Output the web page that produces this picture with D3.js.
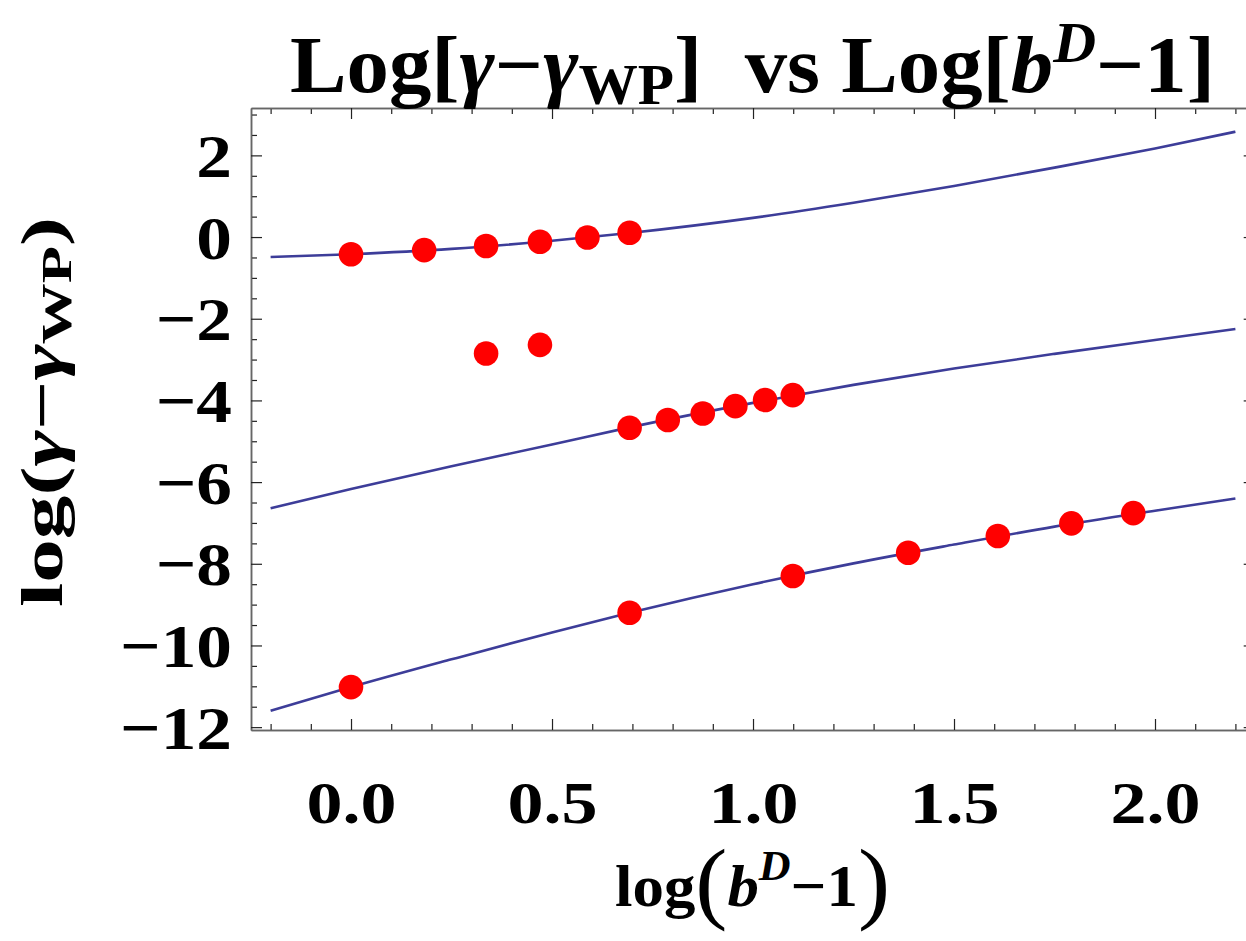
<!DOCTYPE html>
<html>
<head>
<meta charset="utf-8">
<script src="https://cdn.jsdelivr.net/npm/d3@7"></script>
<style>
  body { margin: 0; background: #fff; }
  text { font-family: "Liberation Serif", "Times New Roman", serif; font-weight: bold; }
</style>
</head>
<body>
<script>
// points: x = log(b^D - 1), y = log(gamma - gamma_WP)
const topX = [0, 0.182, 0.336, 0.47, 0.588, 0.693]
const topY = [-0.42, -0.32, -0.22, -0.115, -0.01, 0.105]
const strayX = [0.336, 0.47]
const strayY = [-2.85, -2.64]
const midX = [0.693, 0.788, 0.875, 0.956, 1.03, 1.099]
const midY = [-4.67, -4.48, -4.32, -4.14, -3.99, -3.87]
const lowX = [0, 0.693, 1.099, 1.386, 1.609, 1.792, 1.946]
const lowY = [-11.02, -9.2, -8.3, -7.73, -7.32, -7.01, -6.76]

// fitted curves
const curveX = [-0.2, 0, 0.25, 0.5, 0.693, 1.0, 1.25, 1.5, 1.75, 2.0, 2.2]
const topFit = [-0.49, -0.42, -0.29, -0.09, 0.1, 0.47, 0.84, 1.25, 1.7, 2.17, 2.58]
const midFit = [-6.64, -6.17, -5.61, -5.08, -4.66, -4.06, -3.62, -3.22, -2.86, -2.52, -2.25]
const lowFit = [-11.6, -11.02, -10.34, -9.68, -9.2, -8.5, -7.99, -7.53, -7.09, -6.7, -6.4]

const xMajor = [0, 0.5, 1, 1.5, 2]
const yMajor = [2, 0, -2, -4, -6, -8, -10, -12]

const width = 1246
const height = 941

const svg = d3.select('body')
    .append('svg')
    .attr('width', width)
    .attr('height', height)

const x = d3.scaleLinear().domain([-0.2488, 2.248]).range([251, 1254.7])
const y = d3.scaleLinear().domain([-12.07, 3.16]).range([730, 108])

const xMinor = d3.range(-2, 23).map(d => d / 10).filter(d => xMajor.indexOf(d) < 0)
const yMinor = d3.range(-24, 7).map(d => d / 2).filter(d => yMajor.indexOf(d) < 0)

function frameAxis(axis, pos, ticks, size, labels) {
    const g = svg.append('g')
        .attr('transform', pos)
        .call(axis.tickValues(ticks).tickSizeInner(-size).tickSizeOuter(0)
            .tickFormat(labels ? labels : ''))
    g.select('.domain').attr('stroke', '#666').attr('stroke-width', 1.5)
    g.selectAll('.tick line').attr('stroke', '#222').attr('stroke-width', 1.2)
    return g
}

// bottom
frameAxis(d3.axisBottom(x), 'translate(0,730)', xMinor, 6)
const bx = frameAxis(d3.axisBottom(x), 'translate(0,730)', xMajor, 11, d3.format('.1f'))
bx.selectAll('.tick text')
    .attr('y', 0).attr('dy', 0)
    .attr('transform', 'translate(0,93) scale(1.2,1)')
    .attr('fill', '#000').attr('font-size', 60)
// top
frameAxis(d3.axisTop(x), 'translate(0,108)', xMinor, 6)
frameAxis(d3.axisTop(x), 'translate(0,108)', xMajor, 11)
// left
frameAxis(d3.axisLeft(y), 'translate(251,0)', yMinor, 6)
const ly = frameAxis(d3.axisLeft(y), 'translate(251,0)', yMajor, 11, d3.format('d'))
ly.selectAll('.tick text')
    .attr('x', 0).attr('dy', '0.34em')
    .attr('transform', 'translate(-19,0) scale(1.15,1)')
    .attr('fill', '#000').attr('font-size', 62)
// right
frameAxis(d3.axisRight(y), 'translate(' + x(2.248) + ',0)', yMinor, 6)
frameAxis(d3.axisRight(y), 'translate(' + x(2.248) + ',0)', yMajor, 11)

// fitted lines
const line = d3.line()
    .x(d => x(d[0]))
    .y(d => y(d[1]))
    .curve(d3.curveMonotoneX)

const fits = [topFit, midFit, lowFit]
svg.selectAll('path.fit')
    .data(fits)
    .enter().append('path')
    .attr('class', 'fit')
    .attr('fill', 'none')
    .attr('stroke', '#3d3d99')
    .attr('stroke-width', 2.6)
    .attr('d', f => line(curveX.map((cx, i) => [cx, f[i]])))

// data points
const pts = []
topX.forEach((d, i) => pts.push([d, topY[i]]))
strayX.forEach((d, i) => pts.push([d, strayY[i]]))
midX.forEach((d, i) => pts.push([d, midY[i]]))
lowX.forEach((d, i) => pts.push([d, lowY[i]]))

svg.selectAll('circle.pt')
    .data(pts)
    .enter().append('circle')
    .attr('class', 'pt')
    .attr('cx', d => x(d[0]))
    .attr('cy', d => y(d[1]))
    .attr('r', 12.3)
    .attr('fill', '#ff0000')

// title
const title = svg.append('text')
    .attr('x', 290)
    .attr('y', 92)
    .attr('font-size', 80)
    .attr('textLength', 925)
    .attr('lengthAdjust', 'spacingAndGlyphs')
title.append('tspan').text('Log[')
title.append('tspan').attr('font-style', 'italic').text('γ')
title.append('tspan').text('−')
title.append('tspan').attr('font-style', 'italic').text('γ')
title.append('tspan').attr('font-size', 56).attr('dy', 12).text('WP')
title.append('tspan').attr('dy', -12).text(']\u00a0\u00a0vs Log[')
title.append('tspan').attr('font-style', 'italic').text('b')
title.append('tspan').attr('font-style', 'italic').attr('font-size', 56).attr('dy', -30).text('D')
title.append('tspan').attr('dy', 30).text('−1]')

// x label
const xl = svg.append('text')
    .attr('x', 615)
    .attr('y', 906)
    .attr('font-size', 60)
    .attr('textLength', 275)
    .attr('lengthAdjust', 'spacingAndGlyphs')
xl.append('tspan').text('log')
xl.append('tspan').attr('font-weight', 'normal').attr('font-size', 92).attr('dy', 6).text('(')
xl.append('tspan').attr('font-style', 'italic').attr('dy', -6).text('b')
xl.append('tspan').attr('font-style', 'italic').attr('font-size', 42).attr('dy', -26).text('D')
xl.append('tspan').attr('dy', 26).text('−1')
xl.append('tspan').attr('font-weight', 'normal').attr('font-size', 92).attr('dy', 6).text(')')

// y label
const yl = svg.append('text')
    .attr('transform', 'translate(62,607) rotate(-90)')
    .attr('font-size', 60)
    .attr('textLength', 390)
    .attr('lengthAdjust', 'spacingAndGlyphs')
yl.append('tspan').text('log(')
yl.append('tspan').attr('font-style', 'italic').text('γ')
yl.append('tspan').text('−')
yl.append('tspan').attr('font-style', 'italic').text('γ')
yl.append('tspan').attr('font-size', 42).attr('dy', 9).text('WP')
yl.append('tspan').attr('dy', -9).text(')')
</script>
</body>
</html>
